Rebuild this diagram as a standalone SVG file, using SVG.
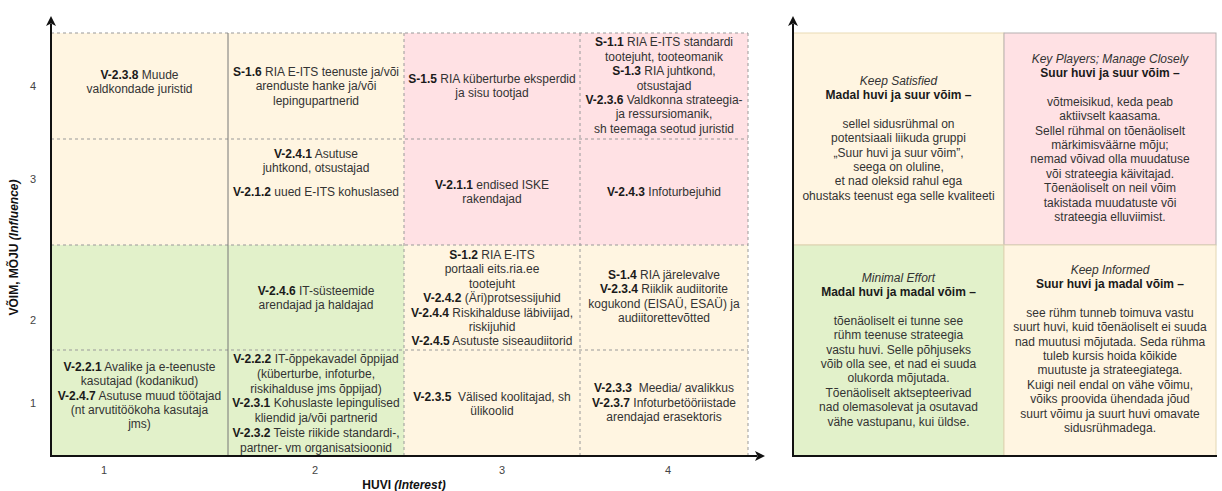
<svg xmlns="http://www.w3.org/2000/svg" width="1222" height="491" viewBox="0 0 1222 491">
  <style>
    .t { font-family: "Liberation Sans", Arial, sans-serif; font-size: 12px; fill: #333; text-anchor: middle; }
    .b { font-weight: bold; fill: #1a1a1a; }
    .i { font-style: italic; }
    .tick { font-family: "Liberation Sans", Arial, sans-serif; font-size: 11px; fill: #444; text-anchor: middle; }
    .ax { font-family: "Liberation Sans", Arial, sans-serif; font-size: 12px; font-weight: bold; fill: #111; text-anchor: middle; }
    .yel { fill: #fff5e1; }
    .pink { fill: #ffe1e4; }
    .green { fill: #e2f1ca; }
    .grid { stroke: #999; stroke-width: 1; stroke-dasharray: 3 3; fill: none; }
    .axis { stroke: #111; stroke-width: 2; fill: none; }
  </style>
  <defs>
    <marker id="arrow" markerUnits="userSpaceOnUse" markerWidth="12" markerHeight="12" viewBox="-1 -6 12 12" refX="2" refY="0" orient="auto">
      <path d="M0,-5 L10,0 L0,5 L2.5,0 Z" fill="#111"/>
    </marker>
  </defs>

  <rect width="1222" height="491" fill="#fff"/>

  <!-- stakeholder grid: interest (x) against influence (y) -->
  <g id="grid-cells">
    <g id="cell-r4c1"><rect class="yel" x="51" y="33" width="177" height="106"/>
      <text class="t"><tspan x="139.5" y="79"><tspan class="b">V-2.3.8</tspan> Muude</tspan><tspan x="139.5" y="93.4">valdkondade juristid</tspan></text></g>
    <g id="cell-r4c2"><rect class="yel" x="228" y="33" width="176" height="106"/>
      <text class="t"><tspan x="316" y="75.7"><tspan class="b">S-1.6</tspan> RIA E-ITS teenuste ja/või</tspan><tspan x="316" y="90.1">arenduste hanke ja/või</tspan><tspan x="316" y="104.5">lepingupartnerid</tspan></text></g>
    <g id="cell-r4c3"><rect class="pink" x="404" y="33" width="176" height="106"/>
      <text class="t"><tspan x="492" y="83"><tspan class="b">S-1.5</tspan> RIA küberturbe eksperdid</tspan><tspan x="492" y="97.4">ja sisu tootjad</tspan></text></g>
    <g id="cell-r4c4"><rect class="pink" x="580" y="33" width="168" height="106"/>
      <text class="t"><tspan x="664" y="46.3"><tspan class="b">S-1.1</tspan> RIA E-ITS standardi</tspan><tspan x="664" y="60.7">tootejuht, tooteomanik</tspan><tspan x="664" y="75.1"><tspan class="b">S-1.3</tspan> RIA juhtkond,</tspan><tspan x="664" y="89.5">otsustajad</tspan><tspan x="664" y="103.9"><tspan class="b">V-2.3.6</tspan> Valdkonna strateegia-</tspan><tspan x="664" y="118.3">ja ressursiomanik,</tspan><tspan x="664" y="132.7">sh teemaga seotud juristid</tspan></text></g>

    <g id="cell-r3c1"><rect class="yel" x="51" y="139" width="177" height="106"/></g>
    <g id="cell-r3c2"><rect class="yel" x="228" y="139" width="176" height="106"/>
      <text class="t"><tspan x="316" y="158"><tspan class="b">V-2.4.1</tspan> Asutuse</tspan><tspan x="316" y="172.4">juhtkond, otsustajad</tspan><tspan x="316" y="195.7"><tspan class="b">V-2.1.2</tspan> uued E-ITS kohuslased</tspan></text></g>
    <g id="cell-r3c3"><rect class="pink" x="404" y="139" width="176" height="106"/>
      <text class="t"><tspan x="492" y="189"><tspan class="b">V-2.1.1</tspan> endised ISKE</tspan><tspan x="492" y="203.4">rakendajad</tspan></text></g>
    <g id="cell-r3c4"><rect class="pink" x="580" y="139" width="168" height="106"/>
      <text class="t"><tspan x="664" y="195.7"><tspan class="b">V-2.4.3</tspan> Infoturbejuhid</tspan></text></g>

    <g id="cell-r2c1"><rect class="green" x="51" y="245" width="177" height="105"/></g>
    <g id="cell-r2c2"><rect class="green" x="228" y="245" width="176" height="105"/>
      <text class="t"><tspan x="316" y="294.7"><tspan class="b">V-2.4.6</tspan> IT-süsteemide</tspan><tspan x="316" y="309.1">arendajad ja haldajad</tspan></text></g>
    <g id="cell-r2c3"><rect class="yel" x="404" y="245" width="176" height="105"/>
      <text class="t"><tspan x="492" y="259"><tspan class="b">S-1.2</tspan> RIA E-ITS</tspan><tspan x="492" y="273.4">portaali eits.ria.ee</tspan><tspan x="492" y="287.8">tootejuht</tspan><tspan x="492" y="302.2"><tspan class="b">V-2.4.2</tspan> (Äri)protsessijuhid</tspan><tspan x="492" y="316.6"><tspan class="b">V-2.4.4</tspan> Riskihalduse läbiviijad,</tspan><tspan x="492" y="331">riskijuhid</tspan><tspan x="492" y="345.4"><tspan class="b">V-2.4.5</tspan> Asutuste siseaudiitorid</tspan></text></g>
    <g id="cell-r2c4"><rect class="yel" x="580" y="245" width="168" height="105"/>
      <text class="t"><tspan x="664" y="279"><tspan class="b">S-1.4</tspan> RIA järelevalve</tspan><tspan x="664" y="293.4"><tspan class="b">V-2.3.4</tspan> Riiklik audiitorite</tspan><tspan x="664" y="307.8">kogukond (EISAÜ, ESAÜ) ja</tspan><tspan x="664" y="322.2">audiitorettevõtted</tspan></text></g>

    <g id="cell-r1c1"><rect class="green" x="51" y="350" width="177" height="106"/>
      <text class="t"><tspan x="139.5" y="370.7"><tspan class="b">V-2.2.1</tspan> Avalike ja e-teenuste</tspan><tspan x="139.5" y="385.1">kasutajad (kodanikud)</tspan><tspan x="139.5" y="399.5"><tspan class="b">V-2.4.7</tspan> Asutuse muud töötajad</tspan><tspan x="139.5" y="413.9">(nt arvutitöökoha kasutaja</tspan><tspan x="139.5" y="428.3">jms)</tspan></text></g>
    <g id="cell-r1c2"><rect class="green" x="228" y="350" width="176" height="106"/>
      <text class="t"><tspan x="316" y="363"><tspan class="b">V-2.2.2</tspan> IT-õppekavadel õppijad</tspan><tspan x="316" y="377.8">(küberturbe, infoturbe,</tspan><tspan x="316" y="392.6">riskihalduse jms õppijad)</tspan><tspan x="316" y="407.4"><tspan class="b">V-2.3.1</tspan> Kohuslaste lepingulised</tspan><tspan x="316" y="422.2">kliendid ja/või partnerid</tspan><tspan x="316" y="437"><tspan class="b">V-2.3.2</tspan> Teiste riikide standardi-,</tspan><tspan x="316" y="451.8">partner- vm organisatsioonid</tspan></text></g>
    <g id="cell-r1c3"><rect class="yel" x="404" y="350" width="176" height="106"/>
      <text class="t"><tspan x="492" y="400.7"><tspan class="b">V-2.3.5</tspan>&#160; Välised koolitajad, sh</tspan><tspan x="492" y="415.1">ülikoolid</tspan></text></g>
    <g id="cell-r1c4"><rect class="yel" x="580" y="350" width="168" height="106"/>
      <text class="t"><tspan x="664" y="392.3"><tspan class="b">V-2.3.3</tspan>&#160; Meedia/ avalikkus</tspan><tspan x="664" y="406.7"><tspan class="b">V-2.3.7</tspan> Infoturbetööriistade</tspan><tspan x="664" y="421.1">arendajad erasektoris</tspan></text></g>
  </g>

  <!-- grid rulings -->
  <g id="grid-lines">
    <path class="grid" d="M51,33 H748 M51,139 H748 M51,245 H748 M51,350 H748 M404,33 V456 M580,33 V456 M748,33 V456"/>
    <path d="M228,33 V456" stroke="#777" stroke-width="1" fill="none"/>
  </g>

  <!-- axis tick labels and titles -->
  <g id="axis-labels">
    <text class="tick" x="33" y="90">4</text>
    <text class="tick" x="33" y="183">3</text>
    <text class="tick" x="33" y="324">2</text>
    <text class="tick" x="33" y="407">1</text>
    <text class="tick" x="104" y="474">1</text>
    <text class="tick" x="315" y="474">2</text>
    <text class="tick" x="502" y="474">3</text>
    <text class="tick" x="668" y="474">4</text>
    <text class="ax" x="404" y="489">HUVI <tspan font-style="italic">(Interest)</tspan></text>
    <text class="ax" transform="translate(18,247.5) rotate(-90)">VÕIM, MÕJU <tspan font-style="italic">(Influence)</tspan></text>
  </g>

  <!-- quadrant summary -->
  <g id="quadrants">
    <g id="q-keep-satisfied"><rect class="yel" x="793" y="33" width="211" height="212" stroke="#e9dcb5" stroke-width="1"/>
      <text class="t"><tspan class="i" x="898.5" y="84.5">Keep Satisfied</tspan><tspan class="b" x="898.5" y="98.9">Madal huvi ja suur võim –</tspan><tspan x="898.5" y="127.7">sellel sidusrühmal on</tspan><tspan x="898.5" y="142.1">potentsiaali liikuda gruppi</tspan><tspan x="898.5" y="156.5">„Suur huvi ja suur võim”,</tspan><tspan x="898.5" y="170.9">seega on oluline,</tspan><tspan x="898.5" y="185.3">et nad oleksid rahul ega</tspan><tspan x="898.5" y="199.7">ohustaks teenust ega selle kvaliteeti</tspan></text></g>
    <g id="q-key-players"><rect class="pink" x="1004" y="33" width="212" height="212" stroke="#b5b0b0" stroke-width="1"/>
      <text class="t"><tspan class="i" x="1110" y="62.5">Key Players; Manage Closely</tspan><tspan class="b" x="1110" y="76.9">Suur huvi ja suur võim –</tspan><tspan x="1110" y="105.7">võtmeisikud, keda peab</tspan><tspan x="1110" y="120.1">aktiivselt kaasama.</tspan><tspan x="1110" y="134.5">Sellel rühmal on tõenäoliselt</tspan><tspan x="1110" y="148.9">märkimisväärne mõju;</tspan><tspan x="1110" y="163.3">nemad võivad olla muudatuse</tspan><tspan x="1110" y="177.7">või strateegia käivitajad.</tspan><tspan x="1110" y="192.1">Tõenäoliselt on neil võim</tspan><tspan x="1110" y="206.5">takistada muudatuste või</tspan><tspan x="1110" y="220.9">strateegia elluviimist.</tspan></text></g>
    <g id="q-minimal-effort"><rect class="green" x="793" y="245" width="211" height="211" stroke="#d9cfb0" stroke-width="1"/>
      <text class="t"><tspan class="i" x="898.5" y="281.5">Minimal Effort</tspan><tspan class="b" x="898.5" y="295.9">Madal huvi ja madal võim –</tspan><tspan x="898.5" y="324.7">tõenäoliselt ei tunne see</tspan><tspan x="898.5" y="339.1">rühm teenuse strateegia</tspan><tspan x="898.5" y="353.5">vastu huvi. Selle põhjuseks</tspan><tspan x="898.5" y="367.9">võib olla see, et nad ei suuda</tspan><tspan x="898.5" y="382.3">olukorda mõjutada.</tspan><tspan x="898.5" y="396.7">Tõenäoliselt aktsepteerivad</tspan><tspan x="898.5" y="411.1">nad olemasolevat ja osutavad</tspan><tspan x="898.5" y="425.5">vähe vastupanu, kui üldse.</tspan></text></g>
    <g id="q-keep-informed"><rect class="yel" x="1004" y="245" width="212" height="211" stroke="#e2d6b4" stroke-width="1"/>
      <text class="t"><tspan class="i" x="1110" y="273.5">Keep Informed</tspan><tspan class="b" x="1110" y="287.9">Suur huvi ja madal võim –</tspan><tspan x="1110" y="316.7">see rühm tunneb toimuva vastu</tspan><tspan x="1110" y="331.1">suurt huvi, kuid tõenäoliselt ei suuda</tspan><tspan x="1110" y="345.5">nad muutusi mõjutada. Seda rühma</tspan><tspan x="1110" y="359.9">tuleb kursis hoida kõikide</tspan><tspan x="1110" y="374.3">muutuste ja strateegiatega.</tspan><tspan x="1110" y="388.7">Kuigi neil endal on vähe võimu,</tspan><tspan x="1110" y="403.1">võiks proovida ühendada jõud</tspan><tspan x="1110" y="417.5">suurt võimu ja suurt huvi omavate</tspan><tspan x="1110" y="431.9">sidusrühmadega.</tspan></text></g>
  </g>

  <!-- axes -->
  <g id="connectors">
    <path class="axis" d="M51,457 V24" marker-end="url(#arrow)"/>
    <path class="axis" d="M50,456 H757" marker-end="url(#arrow)"/>
    <path class="axis" d="M793,457 V24" marker-end="url(#arrow)"/>
    <path class="axis" d="M792,456 H1217"/>
  </g>
</svg>
